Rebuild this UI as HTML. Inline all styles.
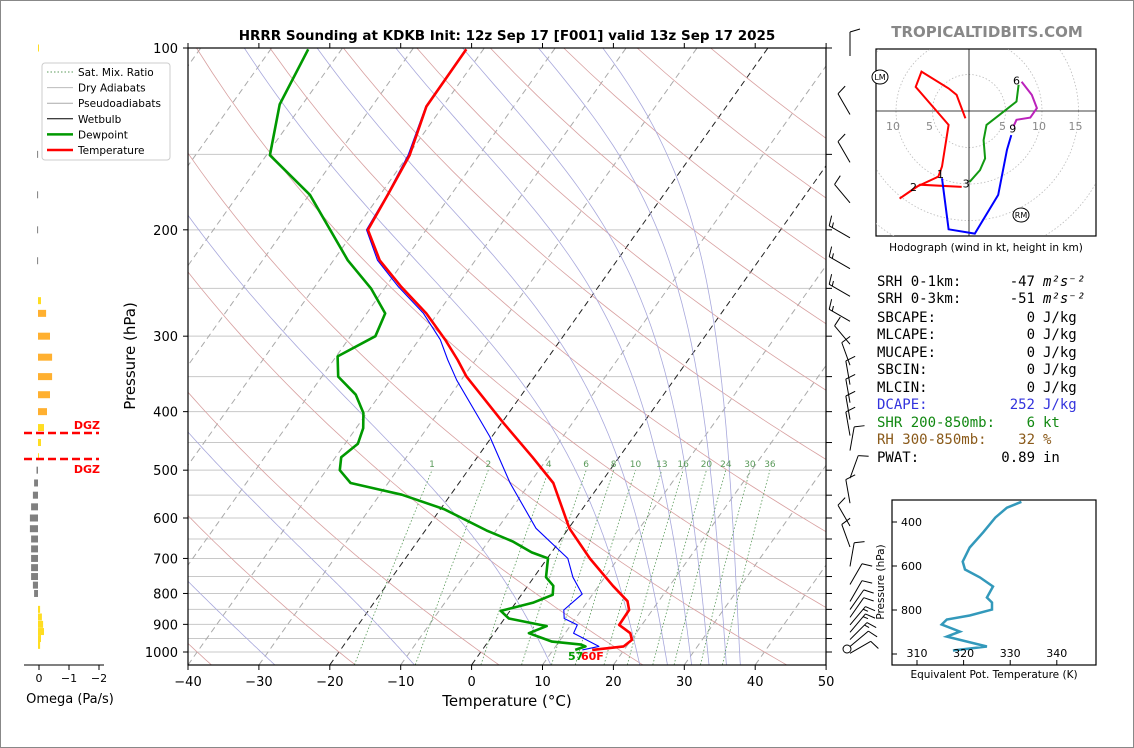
<!DOCTYPE html>
<html><head><meta charset="utf-8"><style>
html,body{margin:0;padding:0;background:#fff;}
svg{display:block;font-family:"DejaVu Sans","Liberation Sans",sans-serif;}
</style></head><body>
<svg id="c" width="1134" height="748" viewBox="0 0 1134 748" xmlns="http://www.w3.org/2000/svg">
<rect x="0.5" y="0.5" width="1133" height="747" fill="#fff" stroke="#888"/>
<text x="507" y="40" text-anchor="middle" font-size="13.5" font-weight="bold">HRRR Sounding at KDKB Init: 12z Sep 17 [F001] valid 13z Sep 17 2025</text>
<text x="987" y="37" text-anchor="middle" font-size="15" font-weight="bold" fill="#888">TROPICALTIDBITS.COM</text>
<defs><clipPath id="mainclip"><rect x="188" y="48" width="638" height="617"/></clipPath>
<clipPath id="hodoclip"><rect x="876" y="49" width="220" height="187"/></clipPath>
<clipPath id="teclip"><rect x="892" y="500" width="204" height="165"/></clipPath></defs>
<g id="bg" clip-path="url(#mainclip)"></g>
<g id="prof" clip-path="url(#mainclip)"></g>
<g id="axes"></g>
<g id="omega"></g>
<g id="barbs"></g>
<g id="hodo"></g>
<g id="te"></g>
<g id="stats" font-family="'DejaVu Sans Mono','Liberation Mono',monospace" font-size="14"></g>
<g id="legend"></g>
</svg>
<script>
// ---- data ----
const tempP=[100.5,125,150.5,175,200,224.6,248.5,275,304,328.5,350,418,476,525,624,700,777,824,852,902,931,955,979,992];
const tempC=[-62.4,-62.3,-59.8,-58.9,-58.2,-53.5,-47.8,-41.6,-36.3,-32.5,-29.6,-19.7,-12.2,-6.7,0.1,6,12,15.6,16.7,16.8,19.2,20.1,19.6,15.5];
const dewP=[100.5,124,150.5,175,224.6,250,275,300,324,350,375,402,426,452,476,500,525,549,580,629,656,684,700,752,777,804,829,855,880,906,931,961,972,979,992];
const dewC=[-84.7,-83.2,-79.5,-69.9,-58,-51.9,-47.4,-46.5,-49.8,-47.7,-43.4,-40.5,-39,-38.2,-39.2,-38.1,-35.3,-26.9,-19.5,-11.4,-6.6,-2.8,0.1,1.7,3.6,4.4,2.4,-1.3,0.6,6.7,4.9,9,13.4,14.2,13.1];
const wbP=[100.5,125,150.5,175,200,224.6,248.5,275,304,328.5,355,440,525,624,700,752,802,852,880,902,931,979,992];
const wbC=[-62.5,-62.4,-60,-59,-58.4,-53.8,-48.2,-42,-37,-33.9,-30.6,-20.3,-12.8,-4.6,2.9,5.5,8.5,7.5,8.4,10.9,11.2,16.1,14.1];
const mixRatios=[1,2,4,6,8,10,13,16,20,24,30,36];
const omegaP=[100,150,175,200,225,262,275,300,325,350,375,400,425,450,475,500,525,550,575,600,625,650,675,700,725,750,775,800,850,875,900,925,950,975];
const omegaV=[-0.02,0.03,0.03,0.03,0.03,-0.1,-0.27,-0.4,-0.47,-0.47,-0.4,-0.3,-0.2,-0.1,-0.02,0.05,0.13,0.17,0.23,0.27,0.27,0.23,0.23,0.23,0.23,0.23,0.17,0.13,-0.07,-0.13,-0.17,-0.2,-0.1,-0.07];
const windP=[100,125,150,175,200,225,250,275,300,325,350,375,400,425,450,500,550,600,650,700,750,800,825,850,875,900,925,950,975];
const windDir=[0,330,330,320,300,300,300,300,320,340,350,350,350,350,10,20,350,330,340,10,30,30,35,35,40,40,45,50,60];
const windSpd=[10,10,10,10,15,15,15,15,10,10,10,10,10,10,10,10,10,10,10,10,10,10,10,10,15,15,15,10,10];
const hodoRed=[[-0.5,-1],[-1.7,2.2],[-2.8,3.1],[-6.5,5.4],[-7.3,3.3],[-2.8,-1.9],[-3.7,-7.6],[-4.2,-9],[-7.2,-10.4],[-9.5,-12],[-6.7,-10.1],[-1,-10.4]];
const hodoGreen=[[0.1,-9.7],[1.5,-8.1],[2.2,-6.5],[2,-4],[2.4,-1.9],[4.2,-0.5],[6.5,1.3],[6.8,3.6]];
const hodoMag=[[7.2,4],[8.6,2.2],[9.3,0.4],[8.4,-0.9],[6.5,-1.2],[6.1,-2.1]];
const hodoBlue=[[5.8,-3.3],[5.2,-5.3],[4,-11.5],[0.8,-16.8],[-2.8,-16.2],[-3.7,-9.2]];
const thetaEP=[308,335,380,447,516,580,616,652,693,743,766,798,825,843,866,898,921,966,984];
const thetaEK=[332.4,329.3,326.8,324.2,321.3,319.8,320.3,323.5,326.3,325,326.1,326.1,321.3,316.4,315.3,319.2,316.4,325,317.7];
const xTicks=[-40,-30,-20,-10,0,10,20,30,40,50];
const pTicks=[100,200,300,400,500,600,700,800,900,1000];

// ---- helpers ----
const NS="http://www.w3.org/2000/svg";
function mk(parent,tag,attrs){const e=document.createElementNS(NS,tag);for(const k in attrs)e.setAttribute(k,attrs[k]);parent.appendChild(e);return e;}
const Y=p=>48+604*Math.log10(p/100);
const X=(T,p)=>188+(T+40)*7.09+0.71*(665-Y(p));
function pathD(pts){return pts.map((q,i)=>(i?'L':'M')+q[0].toFixed(1)+','+q[1].toFixed(1)).join('');}
const bg=document.getElementById('bg'),prof=document.getElementById('prof'),axes=document.getElementById('axes');

for(let p=150;p<=1000;p+=50){const l=mk(bg,'line',{x1:188,x2:826,y1:Y(p),y2:Y(p),stroke:'#c8c8c8','stroke-width':1});
}
for(let T=-150;T<=50;T+=10){const d=pathD([[X(T,1050),Y(1050)],[X(T,100),Y(100)]]);
const blk=(T===0||T===-20);const l=mk(bg,'path',{d:d,stroke:blk?'#222':'#aaa','stroke-width':1,'stroke-dasharray':'6,4',fill:'none'});
}
for(let t0=-60;t0<=200;t0+=20){const th=t0+273.15;const pts=[];for(let p=1050;p>=100;p-=10){pts.push([X(th*Math.pow(p/1000,0.2857)-273.15,p),Y(p)]);}
const l=mk(bg,'path',{d:pathD(pts),stroke:'#d8a0a0','stroke-width':0.8,fill:'none'});
}
function es(T){return 6.112*Math.exp(17.67*T/(T+243.5));}
function dTdp(T,p){const Tk=T+273.15,rs=0.622*es(T)/(p-es(T));const Rd=287,Lv=2.5e6,cp=1005;
return (1/p)*(Rd*Tk+Lv*rs)/(cp+Lv*Lv*rs*0.622/(Rd*Tk*Tk));}
const mts=[-51,-31,-11,9,22,26,29.5,32,34.5,36.5];
mts.forEach(t0=>{let T=t0,pts=[[X(T,1000),Y(1000)]];for(let p=1000;p>100;p-=5){T-=dTdp(T,p)*5;pts.push([X(T,p-5),Y(p-5)]);}
let T2=t0,dn=[];for(let p=1000;p<1050;p+=5){T2+=dTdp(T2,p)*5;dn.push([X(T2,p+5),Y(p+5)]);}
const all=dn.reverse().concat(pts);
const l=mk(bg,'path',{d:pathD(all),stroke:'#a8a8dc','stroke-width':0.8,fill:'none'});
});
mixRatios.forEach(w=>{const pts=[];for(let p=1050;p>=500;p-=25){const e=w*p/(622+w);const a=Math.log(e/6.112);const Td=243.5*a/(17.67-a);pts.push([X(Td,p),Y(p)]);}
const l=mk(bg,'path',{d:pathD(pts),stroke:'#5a9a5a','stroke-width':0.8,'stroke-dasharray':'1.5,2',fill:'none'});

const t=mk(bg,'text',{x:pts[pts.length-1][0],y:Y(500)-3,'font-size':9,fill:'#5a9a5a','text-anchor':'middle'});t.textContent=w;
});

function prof_line(P,T,color,w,name){const pts=P.map((p,i)=>[X(T[i],p),Y(p)]);const l=mk(prof,'path',{d:pathD(pts),stroke:color,'stroke-width':w,fill:'none','stroke-linejoin':'round'});
}
prof_line(wbP,wbC,'#0000ff',1.1,'wetbulb-line');
prof_line(dewP,dewC,'#009900',2.6,'dewpoint-line');
prof_line(tempP,tempC,'#ff0000',2.6,'temperature-line');
{const t=mk(prof,'text',{x:568,y:660,'font-size':11,'font-weight':'bold',fill:'#009900'});t.textContent='57';

const t2=mk(prof,'text',{x:581,y:660,'font-size':11,'font-weight':'bold',fill:'#ff0000'});t2.textContent='60F';
}

{const r=mk(axes,'rect',{x:188,y:48,width:638,height:617,fill:'none',stroke:'#000','stroke-width':1.2});
}
xTicks.forEach(T=>{const x=188+(T+40)*7.09;mk(axes,'line',{x1:x,x2:x,y1:665,y2:670,stroke:'#000'});mk(axes,'line',{x1:x,x2:x,y1:48,y2:43,stroke:'#000'});
const t=mk(axes,'text',{x:x,y:686,'font-size':13,'text-anchor':'middle'});t.textContent=(T<0?'\u2212'+(-T):T);
});
pTicks.forEach(p=>{mk(axes,'line',{x1:183,x2:188,y1:Y(p),y2:Y(p),stroke:'#000'});
const t=mk(axes,'text',{x:178,y:Y(p)+5,'font-size':13,'text-anchor':'end'});t.textContent=p;
});
for(let p=100;p<=1000;p+=50){mk(axes,'line',{x1:826,x2:832,y1:Y(p),y2:Y(p),stroke:'#000'});}
{const t=mk(axes,'text',{x:507,y:706,'font-size':15,'text-anchor':'middle'});t.textContent='Temperature (\u00b0C)';

const t2=mk(axes,'text',{x:135,y:356,'font-size':15,'text-anchor':'middle',transform:'rotate(-90 135 356)'});t2.textContent='Pressure (hPa)';
}

const om=document.getElementById('omega');
omegaP.forEach((p,i)=>{const v=omegaV[i];const w=Math.abs(v)*30;const x=v<0?38:38-w;
const col=v>=0?'#808080':(v<-0.25?'#ffb030':'#ffdd22');
const r=mk(om,'rect',{x:x,y:Y(p)-3.5,width:Math.max(w,1),height:7,fill:col});
});
mk(om,'line',{x1:24,x2:104,y1:665,y2:665,stroke:'#000'});
[[0,'0'],[-1,'\u22121'],[-2,'\u22122']].forEach(a=>{const x=39-a[0]*30;mk(om,'line',{x1:x,x2:x,y1:665,y2:670,stroke:'#000'});
const t=mk(om,'text',{x:x,y:682,'font-size':11,'text-anchor':'middle'});t.textContent=a[1];
});
{const t=mk(om,'text',{x:70,y:703,'font-size':13,'text-anchor':'middle'});t.textContent='Omega (Pa/s)';
}
[[433,429],[459,473]].forEach(a=>{const l=mk(om,'line',{x1:24,x2:99,y1:a[0],y2:a[0],stroke:'#ff0000','stroke-width':2.5,'stroke-dasharray':'8,4'});

const t=mk(om,'text',{x:100,y:a[1],'font-size':11,'font-weight':'bold',fill:'#ff0000','text-anchor':'end'});t.textContent='DGZ';
});

// wind barbs
const bb=document.getElementById('barbs');
windP.forEach((p,i)=>{const bx=850,by=Y(p)+8;const d=windDir[i]*Math.PI/180;const ux=Math.sin(d),uy=-Math.cos(d);
const L=24;const tx=bx+ux*L,ty=by+uy*L;const g=mk(bb,'g',{stroke:'#000','stroke-width':1,fill:'none'});

mk(g,'line',{x1:bx,y1:by,x2:tx,y2:ty});
let s=windSpd[i],pos=0;const px=-uy,py=ux;
while(s>=10){const sx=tx-ux*pos,sy=ty-uy*pos;mk(g,'line',{x1:sx,y1:sy,x2:sx+px*10+ux*3,y2:sy+py*10+uy*3});pos+=3.5;s-=10;}
if(s>=5){if(pos===0)pos=3.5;const sx=tx-ux*pos,sy=ty-uy*pos;mk(g,'line',{x1:sx,y1:sy,x2:sx+px*5+ux*1.5,y2:sy+py*5+uy*1.5});}});
{const c=mk(bb,'circle',{cx:847,cy:Y(1000)-3,r:4,fill:'none',stroke:'#000'});}

// hodograph
const hd=document.getElementById('hodo');
const HX=u=>969+u*7.3,HY=v=>111-v*7.3;
{const r=mk(hd,'rect',{x:876,y:49,width:220,height:187,fill:'none',stroke:'#000','stroke-width':1.2});}
const hg=mk(hd,'g',{'clip-path':'url(#hodoclip)'});
[5,10,15,20,25].forEach(r=>{mk(hg,'circle',{cx:969,cy:111,r:r*7.3,fill:'none',stroke:'#bbb','stroke-dasharray':'1.5,2','stroke-width':0.8});});
mk(hg,'line',{x1:876,x2:1096,y1:111,y2:111,stroke:'#000','stroke-width':0.8});
mk(hg,'line',{x1:969,x2:969,y1:49,y2:236,stroke:'#000','stroke-width':0.8});
[[-10,'10'],[-5,'5'],[5,'5'],[10,'10'],[15,'15']].forEach(a=>{const t=mk(hg,'text',{x:HX(a[0])-3,y:130,'font-size':11,fill:'#888','text-anchor':'middle'});t.textContent=a[1];
});
[[hodoRed,'#ff0000','hodo-0-3km'],[hodoGreen,'#119911','hodo-3-6km'],[hodoMag,'#bb22bb','hodo-6-9km'],[hodoBlue,'#0000ff','hodo-9km-plus']].forEach(a=>{
const l=mk(hg,'path',{d:pathD(a[0].map(q=>[HX(q[0]),HY(q[1])])),stroke:a[1],'stroke-width':2,fill:'none'});
});
[['1',-3.9,-8.6],['2',-7.6,-10.4],['3',-0.4,-9.9],['6',6.5,4.2],['9',6,-2.4]].forEach(a=>{const t=mk(hg,'text',{x:HX(a[1]),y:HY(a[2])+4,'font-size':11,'text-anchor':'middle'});t.textContent=a[0];
});
[['LM',880,77],['RM',1021,215]].forEach(a=>{const c=mk(hd,'ellipse',{cx:a[1],cy:a[2],rx:8,ry:7,fill:'#fff',stroke:'#000'});

const t=mk(hd,'text',{x:a[1],y:a[2]+3,'font-size':8,'text-anchor':'middle'});t.textContent=a[0];
});
{const t=mk(hd,'text',{x:986,y:251,'font-size':10.5,'text-anchor':'middle'});t.textContent='Hodograph (wind in kt, height in km)';
}

// stats
const st=document.getElementById('stats');
const rows=[['SRH 0-1km:','-47','m\u00b2s\u207b\u00b2','#000',281],['SRH 0-3km:','-51','m\u00b2s\u207b\u00b2','#000',298],['SBCAPE:','0','J/kg','#000',317],['MLCAPE:','0','J/kg','#000',334],['MUCAPE:','0','J/kg','#000',352],['SBCIN:','0','J/kg','#000',369],['MLCIN:','0','J/kg','#000',387],['DCAPE:','252','J/kg','#3333dd',404],['SHR 200-850mb:','6','kt','#118811',422],['RH 300-850mb:','32','%','#8a5a1a',439],['PWAT:','0.89','in','#000',457]];
rows.forEach(r=>{const a=mk(st,'text',{x:877,y:r[4]+5,fill:r[3]});a.textContent=r[0];
const b=mk(st,'text',{x:1035,y:r[4]+5,fill:r[3],'text-anchor':'end'});b.textContent=r[1];
const c=mk(st,'text',{x:1043,y:r[4]+5,fill:r[3],'font-style':r[2].startsWith('m')?'italic':'normal'});c.textContent=r[2];});

// theta-e
const te=document.getElementById('te');
const TX=k=>917+(k-310)*4.66,TY=p=>522+(p-400)*0.22;
{const r=mk(te,'rect',{x:892,y:500,width:204,height:165,fill:'none',stroke:'#000','stroke-width':1.2});}
const tg=mk(te,'g',{'clip-path':'url(#teclip)'});
{const l=mk(tg,'path',{d:pathD(thetaEP.map((p,i)=>[TX(thetaEK[i]),TY(p)])),stroke:'#3399bb','stroke-width':2.5,fill:'none'});}
[400,600,800,1000].forEach(p=>{mk(te,'line',{x1:892,x2:897,y1:TY(p),y2:TY(p),stroke:'#000'});if(p<1000){const t=mk(te,'text',{x:901,y:TY(p)+4,'font-size':11});t.textContent=p;
}});
[310,320,330,340].forEach(k=>{mk(te,'line',{x1:TX(k),x2:TX(k),y1:665,y2:660,stroke:'#000'});const t=mk(te,'text',{x:TX(k),y:657,'font-size':11,'text-anchor':'middle'});t.textContent=k;
});
{const t=mk(te,'text',{x:994,y:678,'font-size':10.5,'text-anchor':'middle'});t.textContent='Equivalent Pot. Temperature (K)';
const t2=mk(te,'text',{x:884,y:582,'font-size':10.5,'text-anchor':'middle',transform:'rotate(-90 884 582)'});t2.textContent='Pressure (hPa)';}

// legend
const lg=document.getElementById('legend');
{const r=mk(lg,'rect',{x:42,y:63,width:128,height:97,rx:3,fill:'#fff',stroke:'#ccc'});}
[['Sat. Mix. Ratio','#5a9a5a',1,'1.5,2'],['Dry Adiabats','#bbb',1,''],['Pseudoadiabats','#aaa',1,''],['Wetbulb','#000',1,''],['Dewpoint','#009900',2.5,''],['Temperature','#ff0000',2.5,'']].forEach((a,i)=>{
const y=72+i*15.6;const g=mk(lg,'g',{});
const at={x1:47,x2:73,y1:y,y2:y,stroke:a[1],'stroke-width':a[2]};if(a[3])at['stroke-dasharray']=a[3];mk(g,'line',at);
const t=mk(g,'text',{x:78,y:y+4,'font-size':10.5});t.textContent=a[0];});
</script>
</body></html>
